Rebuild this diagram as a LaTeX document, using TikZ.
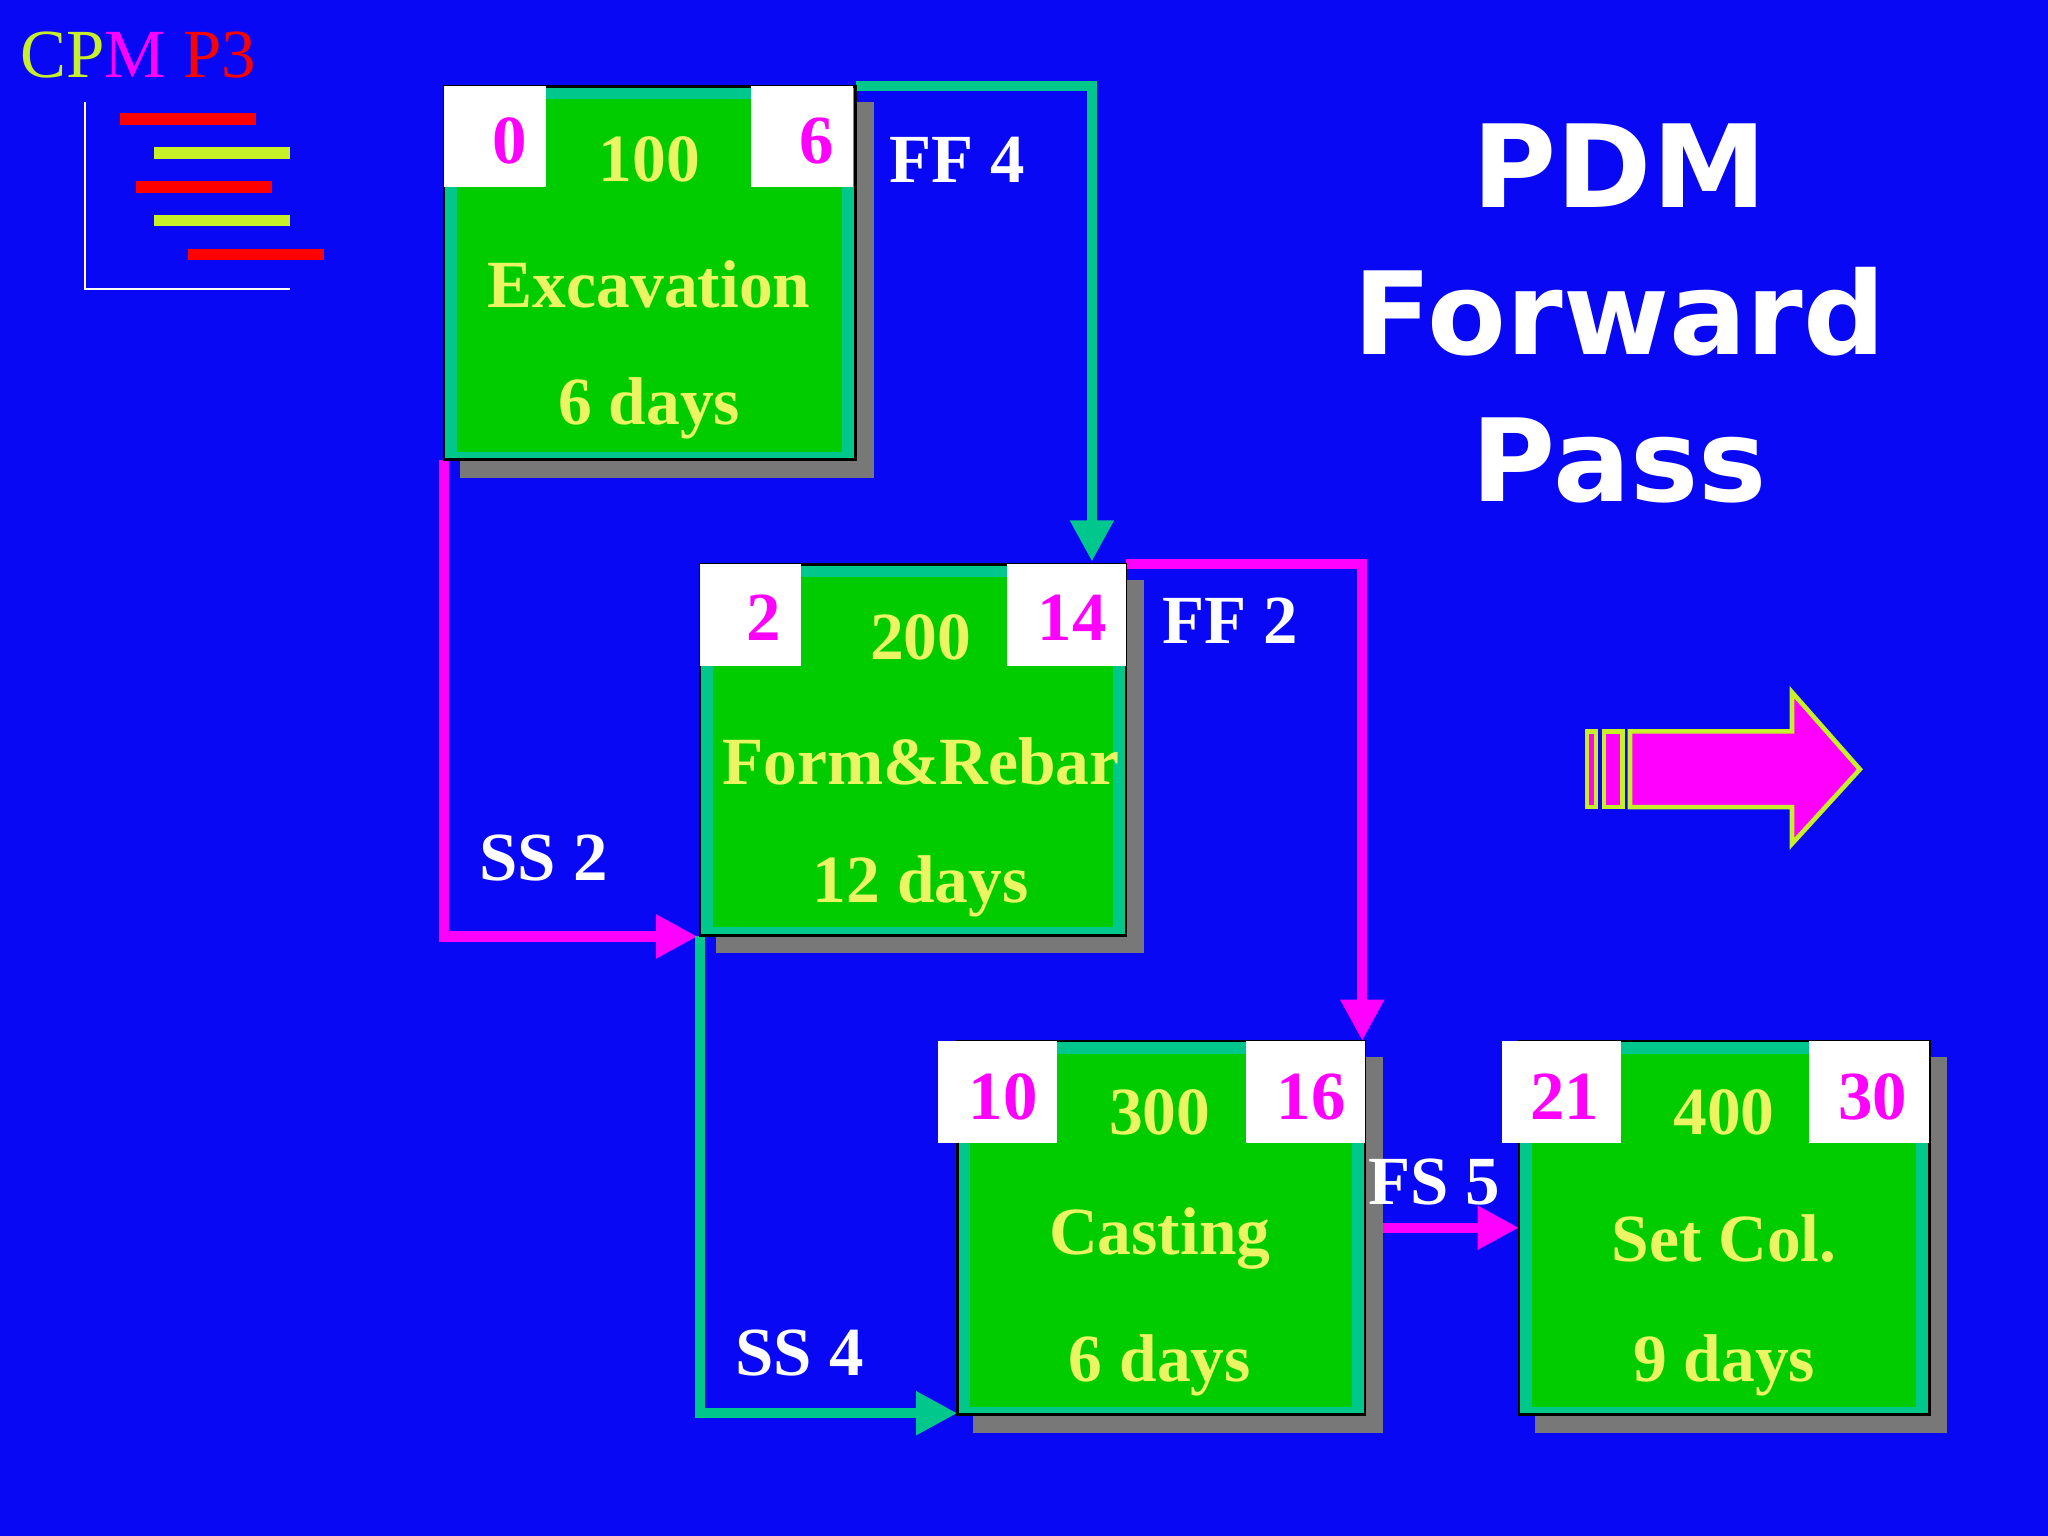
\documentclass[tikz,border=0pt]{standalone}
\usepackage{fontspec}
\setmainfont{Liberation Serif}
\newfontfamily\titlefont{DejaVu Sans}
\usetikzlibrary{arrows.meta}
\definecolor{bg}{RGB}{8,8,245}
\definecolor{grn}{RGB}{0,204,0}
\definecolor{teal}{RGB}{0,200,140}
\definecolor{mag}{RGB}{255,0,255}
\definecolor{ylw}{RGB}{235,245,100}
\definecolor{lgrn}{RGB}{200,240,40}
\definecolor{shd}{RGB}{120,120,120}
\tikzset{
 lbl/.style={text=white,font=\bfseries\fontsize{15}{15}\selectfont},
 num/.style={text=mag,font=\bfseries\fontsize{15}{15}\selectfont},
 txt/.style={text=ylw,font=\bfseries\fontsize{14.7}{15}\selectfont},
 tlink/.style={teal,line width=2.2pt,-{Triangle[length=9pt,width=9pt]}},
 mlink/.style={mag,line width=2.2pt,-{Triangle[length=9pt,width=9pt]}},
}
\newcommand{\actbox}[4]{% x1,y1,x2,y2
 \fill[shd] (#1+12,#2+12) rectangle (#3+14,#4+14);
 \fill[teal] (#1,#2) rectangle (#3,#4);
 \draw[black,line width=0.6pt] (#1,#2) rectangle (#3,#4);
 \fill[grn] (#1+10,#2+10) rectangle (#3-10,#4-6);
}
\begin{document}
\begin{tikzpicture}[x=0.01cm,y=-0.01cm]
\fill[bg] (0,0) rectangle (1568,1176);
\useasboundingbox (0,0) rectangle (1568,1176);
% logo
\node[anchor=west,inner sep=0,font=\fontsize{15}{15}\selectfont] (logo) at (15,42) {\textcolor{lgrn}{CP}\textcolor{mag}{M}\textcolor{red}{\ P3}};
\draw[white,line width=0.5pt] (65,78) -- (65,221) -- (222,221);
\draw[red,line width=2.5pt] (92,91) -- (196,91);
\draw[lgrn,line width=2.5pt] (118,117) -- (222,117);
\draw[red,line width=2.5pt] (104,143) -- (208,143);
\draw[lgrn,line width=2.5pt] (118,169) -- (222,169);
\draw[red,line width=2.5pt] (144,195) -- (248,195);
% title
\node[text=white,font=\titlefont\bfseries\fontsize{25}{32}\selectfont,align=center] (title) at (1240,240) {PDM\\Forward\\Pass};
% big arrow
\draw[lgrn,fill=mag,line width=1pt] (1215,560) rectangle (1222,618);
\draw[lgrn,fill=mag,line width=1pt] (1228,560) rectangle (1242,618);
\draw[lgrn,fill=mag,line width=1pt] (1248,560) -- (1372,560) -- (1372,530) -- (1424,589) -- (1372,646) -- (1372,618) -- (1248,618) -- cycle;
% connectors
\coordinate (a1) at (655,66); \coordinate (a2) at (836,430);
\coordinate (s1) at (340,352); \coordinate (s2) at (534,717);
\coordinate (f1) at (862,432); \coordinate (f2) at (1043,797);
\coordinate (t1) at (536,717); \coordinate (t2) at (733,1082);
\coordinate (g1) at (1045,940); \coordinate (g2) at (1163,940);
\draw[tlink] (a1) -| (a2);
\draw[mlink] (s1) |- (s2);
\draw[mlink] (f1) -| (f2);
\draw[tlink] (t1) |- (t2);
\draw[mlink] (g1) -- (g2);
% boxes
\actbox{340}{66}{655}{352}
\actbox{536}{432}{862}{716}
\actbox{733}{797}{1045}{1083}
\actbox{1163}{797}{1477}{1083}
\fill[white] (340,66) rectangle (418,143); \fill[white] (575,66) rectangle (653,143);
\fill[white] (536,432) rectangle (613,510); \fill[white] (771,432) rectangle (862,510);
\fill[white] (718,797) rectangle (809,875); \fill[white] (954,797) rectangle (1045,875);
\fill[white] (1150,797) rectangle (1241,875); \fill[white] (1385,797) rectangle (1477,875);
% texts
\node[num] (n1a) at (390,108) {0}; \node[num] (n1b) at (625,108) {6};
\node[txt] (n1) at (497,122) {100}; \node[txt] (n1n) at (497,218) {Excavation}; \node[txt] (n1d) at (497,313) {6 days};
\node[num] (n2a) at (585,473) {2}; \node[num] (n2b) at (821,473) {14};
\node[txt] (n2) at (705,488) {200}; \node[txt] (n2n) at (705,583) {Form\&Rebar}; \node[txt] (n2d) at (705,679) {12 days};
\node[num] (n3a) at (768,840) {10}; \node[num] (n3b) at (1004,840) {16};
\node[txt] (n3) at (888,852) {300}; \node[txt] (n3n) at (888,948) {Casting}; \node[txt] (n3d) at (888,1045) {6 days};
\node[num] (n4a) at (1198,840) {21}; \node[num] (n4b) at (1434,840) {30};
\node[txt] (n4) at (1320,852) {400}; \node[txt] (n4n) at (1320,948) {Set Col.}; \node[txt] (n4d) at (1320,1045) {9 days};
% labels
\node[lbl] (l1) at (733,122) {FF 4};
\node[lbl] (l2) at (416,657) {SS 2};
\node[lbl] (l3) at (942,475) {FF 2};
\node[lbl] (l4) at (612,1036) {SS 4};
\node[lbl] (l5) at (1098,905) {FS 5};
\end{tikzpicture}
\end{document}
